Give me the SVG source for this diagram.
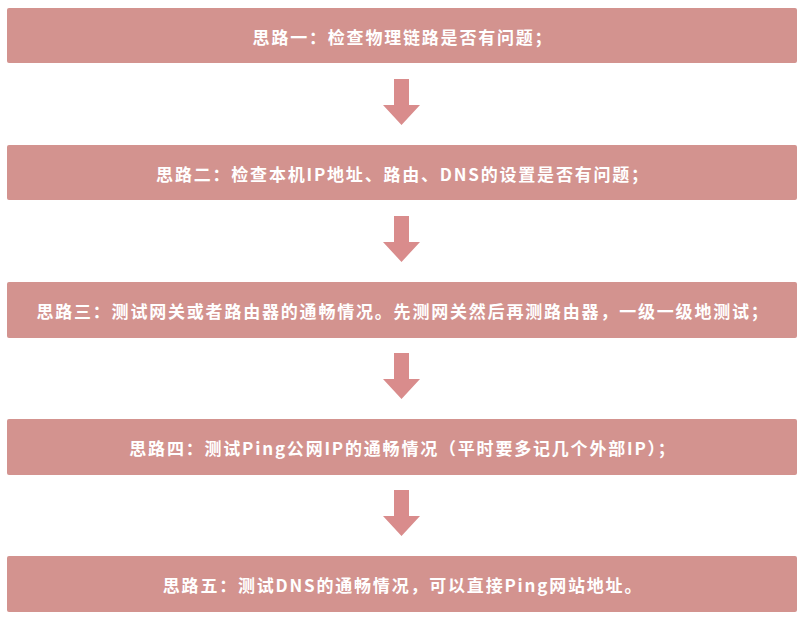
<svg xmlns="http://www.w3.org/2000/svg" width="804" height="623" viewBox="0 0 804 623">
<style>
.box{fill:#d3938f;}
.t{fill:#fff;font-family:"Noto Sans CJK SC","Liberation Sans",sans-serif;font-size:17px;letter-spacing:1.8px;font-weight:bold;text-anchor:middle;dominant-baseline:central;}
.a{fill:#d98c8c;}
</style>
<rect width="804" height="623" fill="#fff"/>
<g id="n1"><rect class="box" x="7" y="8" width="790" height="55" rx="2"/><text class="t" x="403" y="36">思路一：检查物理链路是否有问题；</text></g>
<g id="n2"><rect class="box" x="7" y="145" width="790" height="55" rx="2"/><text class="t" x="403" y="173">思路二：检查本机IP地址、路由、DNS的设置是否有问题；</text></g>
<g id="n3"><rect class="box" x="7" y="282" width="790" height="56" rx="2"/><text class="t" x="403" y="310">思路三：测试网关或者路由器的通畅情况。先测网关然后再测路由器，一级一级地测试；</text></g>
<g id="n4"><rect class="box" x="7" y="419" width="790" height="56" rx="2"/><text class="t" x="403" y="447">思路四：测试Ping公网IP的通畅情况（平时要多记几个外部IP）；</text></g>
<g id="n5"><rect class="box" x="7" y="556" width="790" height="56" rx="2"/><text class="t" x="403" y="584">思路五：测试DNS的通畅情况，可以直接Ping网站地址。</text></g>
<g id="connectors">
<path class="a" d="M394 79H409V105H420L401.5 125L383 105H394Z"/>
<path class="a" d="M394 216H409V242H420L401.5 262L383 242H394Z"/>
<path class="a" d="M394 353H409V379H420L401.5 399L383 379H394Z"/>
<path class="a" d="M394 490H409V516H420L401.5 536L383 516H394Z"/>
</g>
</svg>
